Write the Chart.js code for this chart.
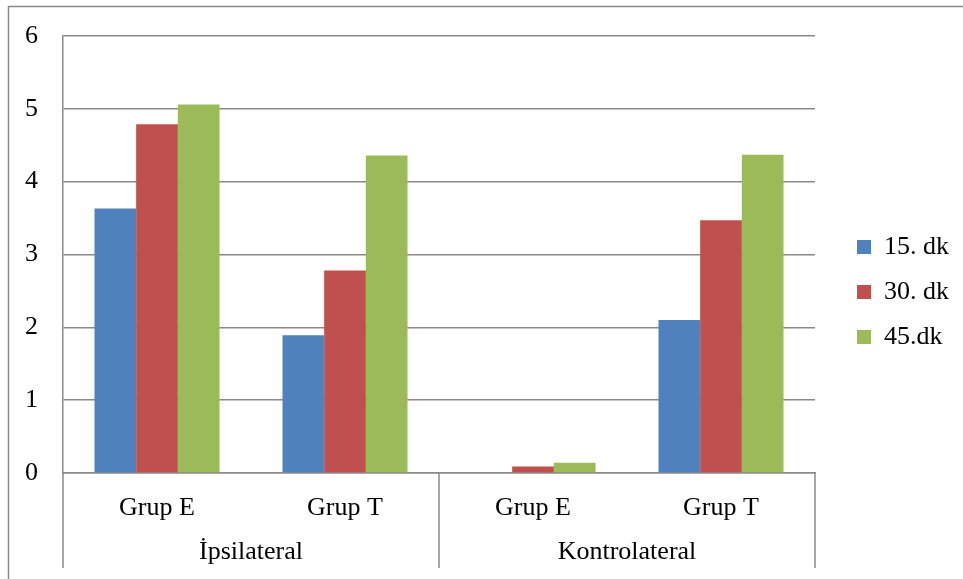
<!DOCTYPE html>
<html>
<head>
<meta charset="utf-8">
<script src="https://cdn.jsdelivr.net/npm/chart.js@4/dist/chart.umd.min.js"></script>
<style>
  html, body { margin: 0; padding: 0; background: #fff; }
  #wrap { width: 963px; height: 579px; position: relative; }
</style>
</head>
<body>
<div id="wrap"><canvas id="c" width="963" height="579"></canvas></div>
<script>
// Subgroups along the x axis and the outer group each pair belongs to
const categories = ['Grup E', 'Grup T', 'Grup E', 'Grup T'];
const groups = ['İpsilateral', 'Kontrolateral'];
const seriesNames = ['15. dk', '30. dk', '45.dk'];

// Values per time point
const dk15 = [3.63, 1.89, 0, 2.10];
const dk30 = [4.79, 2.78, 0.09, 3.47];
const dk45 = [5.06, 4.36, 0.14, 4.37];

const yTicks = [0, 1, 2, 3, 4, 5, 6];

const serif = '"Liberation Serif", "Times New Roman", serif';
const lineGray = '#8a8a8a';
const fontSize = 26;

// Outer frame around the whole chart
const framePlugin = {
  id: 'frame',
  beforeDraw(chart) {
    const ctx = chart.ctx;
    ctx.save();
    ctx.fillStyle = '#fff';
    ctx.fillRect(0, 0, chart.width, chart.height);
    ctx.strokeStyle = lineGray;
    ctx.lineWidth = 1.5;
    ctx.strokeRect(8.5, 6.5, 1000, 1000);
    ctx.restore();
  }
};

// Two-level category axis: separators under the x axis and outer group names
const groupAxisPlugin = {
  id: 'groupAxis',
  afterDraw(chart) {
    const ctx = chart.ctx;
    const x = chart.scales.x;
    const area = chart.chartArea;
    const bottom = x.bottom;
    const mid = (x.getPixelForValue(1) + x.getPixelForValue(2)) / 2;
    const edges = [area.left, mid, area.right];
    ctx.save();
    ctx.strokeStyle = lineGray;
    ctx.lineWidth = 1.5;
    ctx.beginPath();
    edges.forEach(px => {
      ctx.moveTo(px, area.bottom);
      ctx.lineTo(px, bottom);
    });
    ctx.stroke();
    ctx.fillStyle = '#000';
    ctx.font = fontSize + 'px ' + serif;
    ctx.textAlign = 'center';
    ctx.textBaseline = 'middle';
    groups.forEach((g, i) => {
      const cx = (edges[i] + edges[i + 1]) / 2;
      ctx.fillText(g, cx, area.bottom + 79);
    });
    ctx.restore();
  }
};

new Chart(document.getElementById('c'), {
  type: 'bar',
  data: {
    labels: categories,
    datasets: [
      { label: seriesNames[0], data: dk15, backgroundColor: '#4F81BD' },
      { label: seriesNames[1], data: dk30, backgroundColor: '#C0504D' },
      { label: seriesNames[2], data: dk45, backgroundColor: '#9BBB59' }
    ]
  },
  options: {
    responsive: false,
    animation: false,
    layout: { padding: { left: 0, top: 16, right: 4, bottom: 11 } },
    datasets: { bar: { categoryPercentage: 0.665, barPercentage: 1, borderWidth: 0 } },
    plugins: {
      tooltip: { enabled: false },
      legend: {
        position: 'right',
        align: 'center',
        labels: {
          boxWidth: 14,
          boxHeight: 14,
          padding: 19,
          color: '#000',
          font: { family: serif, size: fontSize }
        }
      }
    },
    scales: {
      x: {
        grid: { display: false },
        border: { display: true, color: lineGray, width: 1.5 },
        ticks: { color: '#000', font: { family: serif, size: fontSize }, padding: 12, maxRotation: 0 },
        afterFit(scale) { scale.height = 95; }
      },
      y: {
        min: 0,
        max: 6,
        afterBuildTicks(scale) { scale.ticks = yTicks.map(v => ({ value: v })); },
        grid: { color: lineGray, lineWidth: 1.5, drawTicks: false },
        border: { display: true, color: lineGray, width: 1.5 },
        ticks: { color: '#000', font: { family: serif, size: fontSize }, padding: 25 },
        afterFit(scale) {
          scale.width = 63;
          scale.paddingTop = 36;
          scale.paddingBottom = 16;
        }
      },
      gap: {
        position: 'right',
        display: true,
        grid: { display: false },
        border: { display: false },
        ticks: { display: false },
        afterFit(scale) { scale.width = 23; }
      }
    }
  },
  plugins: [framePlugin, groupAxisPlugin]
});
</script>
</body>
</html>
